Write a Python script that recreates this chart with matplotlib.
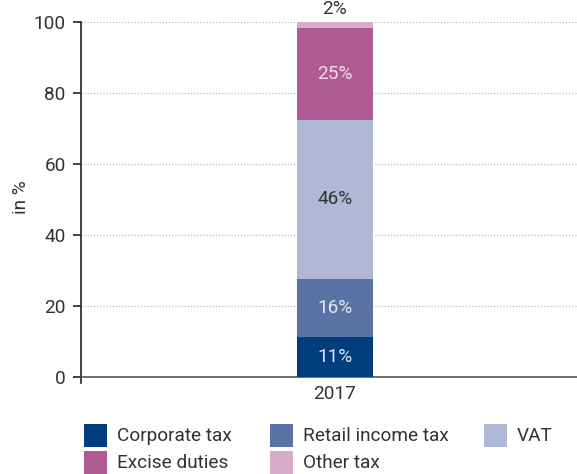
import matplotlib
matplotlib.use("Agg")
import matplotlib.pyplot as plt
from matplotlib.patches import Rectangle

plt.rcParams['font.family'] = ['Roboto', 'DejaVu Sans']

years = ["2017"]
categories = ["Corporate tax", "Retail income tax", "VAT", "Excise duties", "Other tax"]
values = [11.3, 16.3, 44.9, 25.8, 1.7]
labels = ["11%", "16%", "46%", "25%", "2%"]
colors = ["#003e7e", "#5b72a5", "#b0b8d6", "#b05a92", "#d6adcb"]
text_colors = ["#dfe5f0", "#e3e8f2", "#333333", "#f2dcea", "#333333"]
yticks = [0, 20, 40, 60, 80, 100]

FS = 13.7
W, H = 577, 474
fig = plt.figure(figsize=(W / 100, H / 100), dpi=100)
ax = fig.add_axes([81 / W, 1 - 377 / H, (W - 81) / W, (377 - 22.3) / H])

w = 0.3
bottom = 0
for v, c, lab, tc in zip(values, colors, labels, text_colors):
    ax.bar(0, v, width=w, bottom=bottom, color=c, zorder=3)
    if v < 5:
        ax.text(0, bottom + v + 1.2, lab, ha="center", va="bottom", color=tc, fontsize=FS)
    else:
        ax.text(0, bottom + v / 2, lab, ha="center", va="center", color=tc, fontsize=FS)
    bottom += v

ax.set_xlim(-1.0, 0.955)
ax.set_ylim(0, 100)
ax.set_xticks([0])
ax.set_xticklabels(years)
ax.set_yticks(yticks)
ax.tick_params(axis="y", direction="out", length=6, width=1.2, colors="#222222",
               labelcolor="#333333", labelsize=FS, pad=5)
ax.tick_params(axis="x", length=0, labelsize=FS, labelcolor="#333333", pad=6)
for s in ["top", "right"]:
    ax.spines[s].set_visible(False)
ax.spines["left"].set_color("#222222")
ax.spines["left"].set_linewidth(1.2)
ax.spines["bottom"].set_color("#555555")
ax.spines["bottom"].set_linewidth(1.2)
ax.plot([0, 0], [0, -0.018], transform=ax.transAxes, color="#222222", lw=1.2, clip_on=False)
for y in yticks[1:]:
    ax.axhline(y, color="#bbbbbb", lw=0.9, ls=(0, (1, 1.5)), zorder=1)

fig.text(21 / W, 1 - 197 / H, "in %", rotation=90, ha="center", va="center",
         fontsize=FS, color="#333333")

# manual legend (pixel layout)
leg_pos = [(84, 424), (270, 424), (484, 424), (84, 451), (270, 451)]
for (px, py), c, name in zip(leg_pos, colors, categories):
    fig.add_artist(Rectangle((px / W, 1 - (py + 23) / H), 23 / W, 23 / H,
                             transform=fig.transFigure, facecolor=c, edgecolor="none"))
    fig.text((px + 33) / W, 1 - (py + 12) / H, name, ha="left", va="center",
             fontsize=FS, color="#333333")

fig.savefig("out.png", dpi=100)
